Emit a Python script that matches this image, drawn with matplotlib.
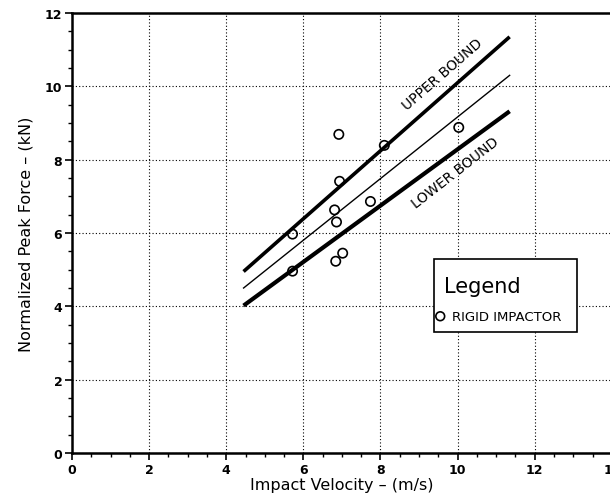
import numpy as np
import matplotlib
matplotlib.use("Agg")
import matplotlib.pyplot as plt
from matplotlib.ticker import MultipleLocator

# measured impacts (rigid impactor)
velocity = [5.72, 5.72, 6.81, 6.86, 6.84, 7.02, 6.92, 6.94, 7.74, 8.10, 10.03]
peak_force = [5.97, 4.96, 6.63, 6.30, 5.23, 5.45, 8.69, 7.41, 6.86, 8.39, 8.88]

# fitted line and bounds (end points)
line_x = [4.45, 11.35]
upper_y = [4.95, 11.35]
mean_y = [4.50, 10.30]
lower_y = [4.02, 9.32]

plt.rcParams['font.family'] = ['DejaVu Sans']

fig = plt.figure(figsize=(6.1, 5.02), dpi=100)
ax = fig.add_axes([0.118, 0.0956, 0.885, 0.8765])

ax.plot(line_x, upper_y, color='black', lw=2.6, solid_capstyle='butt')
ax.plot(line_x, mean_y, color='black', lw=1.0)
ax.plot(line_x, lower_y, color='black', lw=3.0, solid_capstyle='butt')
ax.scatter(velocity, peak_force, s=45, facecolors='none', edgecolors='black',
           linewidths=1.2, zorder=3)

ax.set_xlim(0, 14)
ax.set_ylim(0, 12)
ax.xaxis.set_major_locator(MultipleLocator(2))
ax.yaxis.set_major_locator(MultipleLocator(2))
ax.xaxis.set_minor_locator(MultipleLocator(0.5))
ax.yaxis.set_minor_locator(MultipleLocator(0.5))
ax.grid(True, which='major', linestyle=(0, (1, 2)), color='black', lw=0.8)
ax.tick_params(which='major', length=5, width=1.2, labelsize=9, pad=2)
ax.tick_params(which='minor', length=3, width=1.0)
for lab in ax.get_xticklabels() + ax.get_yticklabels():
    lab.set_fontweight('bold')
for sp in ax.spines.values():
    sp.set_linewidth(1.8)

ax.set_xlabel('Impact Velocity – (m/s)', fontsize=11.5, labelpad=1)
ax.set_ylabel('Normalized Peak Force – (kN)', fontsize=11.5, labelpad=8)

ax.text(9.6, 10.35, 'UPPER BOUND', rotation=41, fontsize=10, ha='center', va='center')
ax.text(9.95, 7.65, 'LOWER BOUND', rotation=38, fontsize=10, ha='center', va='center')

# legend box
ax.add_patch(plt.Rectangle((9.4, 3.3), 3.7, 2.0, facecolor='white',
                           edgecolor='black', lw=1.2, zorder=4))
ax.text(9.65, 4.55, 'Legend', fontsize=15, ha='left', va='center', zorder=5)
ax.scatter([9.55], [3.73], s=40, facecolors='none', edgecolors='black',
           linewidths=1.2, zorder=5)
ax.text(9.85, 3.73, 'RIGID IMPACTOR', fontsize=9.5, ha='left', va='center', zorder=5)

fig.savefig('out.png', dpi=100)
